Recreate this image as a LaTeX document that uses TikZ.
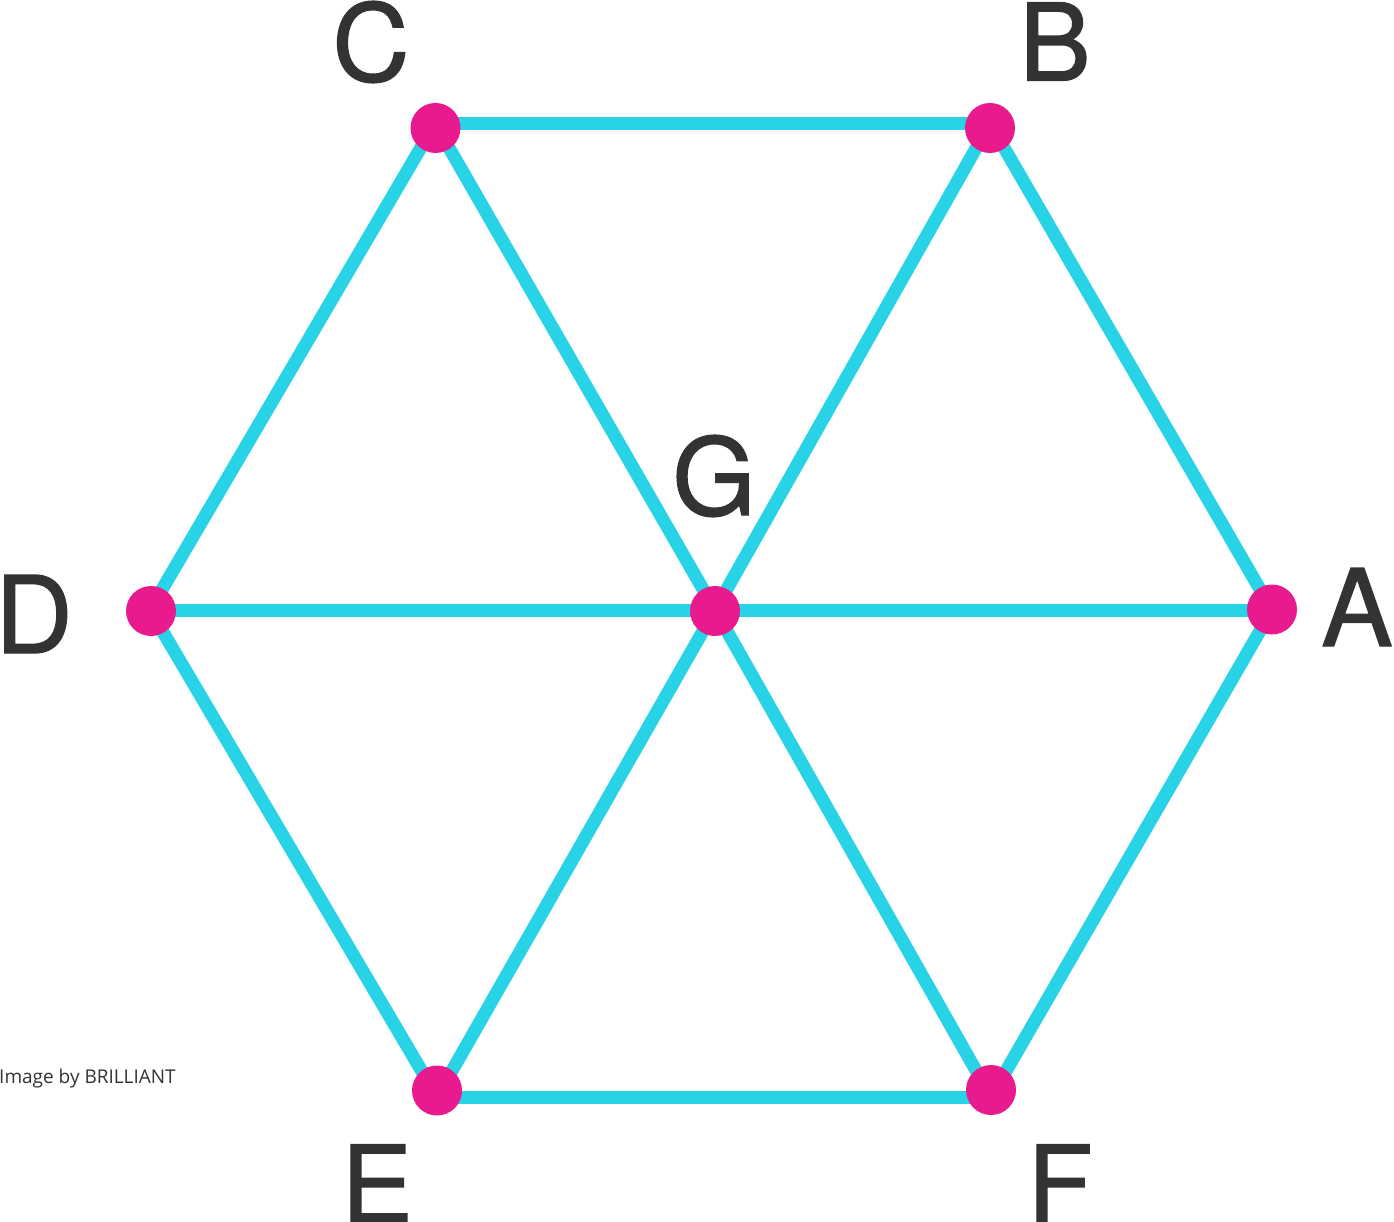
\documentclass[tikz,border=0pt]{standalone}
\usepackage{fontspec}
\setmainfont{TeX Gyre Heros}
\newfontfamily\labfont[FakeBold=1.2]{TeX Gyre Heros}
\newfontfamily\credfont{Open Sans}
\definecolor{edgecyan}{HTML}{28D3E7}
\definecolor{dotmag}{HTML}{E91A8E}
\definecolor{labgray}{HTML}{333333}
\begin{document}
\begin{tikzpicture}[x=1pt,y=-1pt,
  edge/.style={draw=edgecyan,line width=13pt},
  vdot/.style={circle,fill=dotmag,minimum size=50pt,inner sep=0pt},
  lab/.style={text=labgray,inner sep=0pt,font=\labfont\fontsize{107}{107}\selectfont},
  cred/.style={text=labgray,inner sep=0pt,anchor=west,font=\credfont\fontsize{19}{21}\selectfont}]
\useasboundingbox (0,0) rectangle (1394,1222);
% line vertices
\coordinate (lC) at (435,123.5);
\coordinate (lB) at (990,123.5);
\coordinate (lD) at (150,610);
\coordinate (lG) at (715,610);
\coordinate (lA) at (1272,610);
\coordinate (lE) at (437,1097);
\coordinate (lF) at (991,1097);
% edges
\draw[edge] (lC) -- (lB);
\draw[edge] (lB) -- (lA);
\draw[edge] (lA) -- (lF);
\draw[edge] (lF) -- (lE);
\draw[edge] (lE) -- (lD);
\draw[edge] (lD) -- (lC);
\draw[edge] (lC) -- (lG);
\draw[edge] (lG) -- (lF);
\draw[edge] (lB) -- (lG);
\draw[edge] (lG) -- (lE);
\draw[edge] (lD) -- (lG);
\draw[edge] (lG) -- (lA);
% dots
\node[vdot] (C) at (435.5,128) {};
\node[vdot] (B) at (990,128) {};
\node[vdot] (D) at (151,611) {};
\node[vdot] (G) at (715,611) {};
\node[vdot] (A) at (1272,609.5) {};
\node[vdot] (E) at (437,1090.5) {};
\node[vdot] (F) at (991,1090) {};
% labels
\node[lab] (labC) at (371,42) {C};
\node[lab] (labB) at (1055,41.5) {B};
\node[lab] (labD) at (34,614) {D};
\node[lab] (labA) at (1357,607) {A};
\node[lab] (labG) at (714,476) {G};
\node[lab] (labE) at (377,1183.5) {E};
\node[lab] (labF) at (1060,1183.5) {F};
\node[cred] (credit) at (-1,1079) {Image by BRILLIANT};
\end{tikzpicture}
\end{document}
